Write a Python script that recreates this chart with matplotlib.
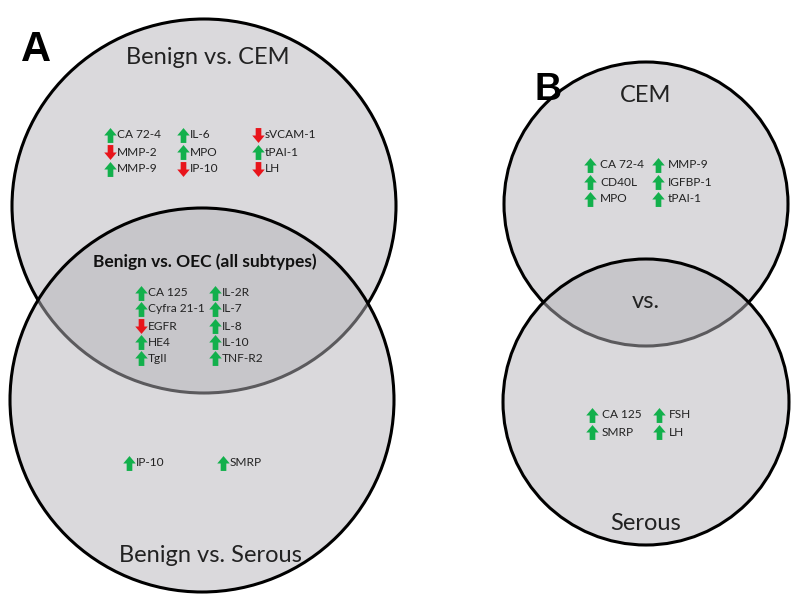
import matplotlib
matplotlib.use("Agg")
import matplotlib.pyplot as plt
from matplotlib.patches import Ellipse
from matplotlib.path import Path

plt.rcParams['font.family'] = ['Lato', 'DejaVu Sans']

# ---------------- data ----------------
a_top_labels = [["CA 72-4", "MMP-2", "MMP-9"],
                ["IL-6", "MPO", "IP-10"],
                ["sVCAM-1", "tPAI-1", "LH"]]
a_top_dirs = [["up", "down", "up"],
              ["up", "up", "down"],
              ["down", "up", "down"]]

a_mid_labels = [["CA 125", "Cyfra 21-1", "EGFR", "HE4", "TgII"],
                ["IL-2R", "IL-7", "IL-8", "IL-10", "TNF-R2"]]
a_mid_dirs = [["up", "up", "down", "up", "up"],
              ["up", "up", "up", "up", "up"]]

a_bot_labels = [["IP-10"], ["SMRP"]]
a_bot_dirs = [["up"], ["up"]]

b_top_labels = [["CA 72-4", "CD40L", "MPO"], ["MMP-9", "IGFBP-1", "tPAI-1"]]
b_top_dirs = [["up", "up", "up"], ["up", "up", "up"]]

b_bot_labels = [["CA 125", "SMRP"], ["FSH", "LH"]]
b_bot_dirs = [["up", "up"], ["up", "up"]]

titles_a = ["Benign vs. CEM", "Benign vs. OEC (all subtypes)", "Benign vs. Serous"]
titles_b = ["CEM", "vs.", "Serous"]

# ---------------- figure ----------------
fig = plt.figure(figsize=(8, 6), dpi=100)
ax = fig.add_axes([0, 0, 1, 1])
ax.set_xlim(0, 800)
ax.set_ylim(600, 0)
ax.axis('off')

fill = (0.714, 0.706, 0.73)
alpha = 0.5


def circle(cx, cy, w, h, z):
    ax.add_patch(Ellipse((cx, cy), w, h, facecolor=(*fill, alpha),
                         edgecolor='black', lw=2.2, zorder=z))


# Panel A
circle(204, 206, 384, 374, 1)
circle(202, 400, 384, 384, 2)
# Panel B
circle(646, 204, 284, 284, 1)
circle(646, 402, 286, 286, 2)

up = Path([(0, 0.5), (0.42, 0.0), (0.19, 0.0), (0.19, -0.5),
           (-0.19, -0.5), (-0.19, 0.0), (-0.42, 0.0), (0, 0.5)],
          [Path.MOVETO] + [Path.LINETO] * 6 + [Path.CLOSEPOLY])
down = Path([(x, -y) for x, y in up.vertices], up.codes)
green = '#12B04C'
red = '#E8141B'


def group(labels, dirs, xs, ys, gap=7, fs=8.6):
    for ci, (col, dcol) in enumerate(zip(labels, dirs)):
        for ri, (lab, d) in enumerate(zip(col, dcol)):
            x, y = xs[ci], ys[ri]
            ax.scatter([x], [y], marker=up if d == 'up' else down, s=115,
                       color=green if d == 'up' else red, linewidths=0, zorder=5)
            ax.text(x + gap, y, lab, ha='left', va='center', fontsize=fs,
                    color='#222222', zorder=6)


group(a_top_labels, a_top_dirs, [110, 183, 258], [135, 152, 169])
group(a_mid_labels, a_mid_dirs, [141, 215], [293, 309, 326, 342, 358])
group(a_bot_labels, a_bot_dirs, [129, 223], [463])
group(b_top_labels, b_top_dirs, [590, 658], [165, 182, 199], gap=10)
group(b_bot_labels, b_bot_dirs, [592, 659], [415, 432], gap=10)

ax.text(208, 57, titles_a[0], ha='center', va='center', fontsize=17, color='#222222', zorder=6)
ax.text(205, 262, titles_a[1], ha='center', va='center', fontsize=12.5,
        fontweight='bold', color='#111111', zorder=6)
ax.text(210, 555, titles_a[2], ha='center', va='center', fontsize=17, color='#222222', zorder=6)

ax.text(646, 96, titles_b[0], ha='center', va='center', fontsize=17, color='#222222', zorder=6)
ax.text(646, 302, titles_b[1], ha='center', va='center', fontsize=17, color='#222222', zorder=6)
ax.text(646, 523, titles_b[2], ha='center', va='center', fontsize=17, color='#222222', zorder=6)

ax.text(36, 50, "A", ha='center', va='center', fontsize=30, fontweight='bold',
        family=['Liberation Sans', 'DejaVu Sans'], zorder=6)
ax.text(548, 90, "B", ha='center', va='center', fontsize=27, fontweight='bold',
        family=['Liberation Sans', 'DejaVu Sans'], zorder=6)

fig.savefig("out.png", dpi=100)
